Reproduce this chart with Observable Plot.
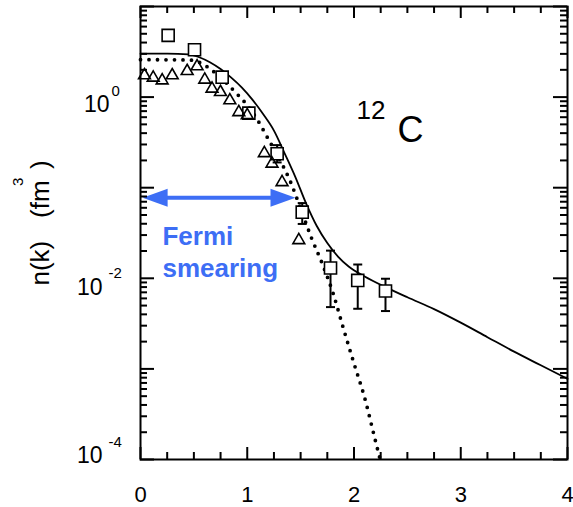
<!DOCTYPE html>
<html><head><meta charset="utf-8">
<script src="https://cdn.jsdelivr.net/npm/d3@7"></script>
<script src="https://cdn.jsdelivr.net/npm/@observablehq/plot@0.6"></script>
<style>html,body{margin:0;padding:0;background:#fff;}</style>
</head><body><div id="chart"></div>
<script>
// ---- data ----
// squares (data set with error bars)
const squareK   = [0.259, 0.506, 0.765, 1.015, 1.28, 1.515, 1.78, 2.035, 2.295];
const squareN   = [4.80, 3.33, 1.66, 0.665, 0.237, 0.0537, 0.0130, 0.00948, 0.00724];
const squareLo  = [null, null, null, null, 0.19, 0.0398, 0.00481, 0.00461, 0.00435];
const squareHi  = [null, null, null, null, 0.295, 0.0676, 0.0202, 0.0142, 0.00989];
// triangles
const triK = [0.037, 0.119, 0.203, 0.297, 0.437, 0.53, 0.602, 0.67, 0.749, 0.837, 0.921, 1.0, 1.16, 1.232, 1.326, 1.483];
const triN = [1.738, 1.637, 1.528, 1.738, 1.936, 2.183, 1.556, 1.239, 1.135, 0.920, 0.682, 0.631, 0.24, 0.184, 0.115, 0.0263];
// solid curve
const solidK = [0, 0.25, 0.45, 0.55, 0.65, 0.75, 0.85, 0.95, 1.05, 1.15, 1.25, 1.35, 1.45, 1.55, 1.65, 1.75, 1.85, 1.95, 2.1, 2.3, 2.5, 2.75, 3.0, 3.25, 3.5, 3.75, 4.0];
const solidN = [3.013, 3.013, 2.965, 2.754, 2.427, 2.042, 1.641, 1.274, 0.933, 0.646, 0.427, 0.240, 0.132, 0.0676, 0.0380, 0.0245, 0.01738, 0.01349, 0.01047, 0.00794, 0.00617, 0.00457, 0.00324, 0.00224, 0.00155, 0.001096, 0.000776];
// dotted curve
const dotK = [0, 0.45, 0.55, 0.67, 0.78, 0.9, 1.0, 1.1, 1.2, 1.3, 1.4, 1.5, 1.6, 1.7, 1.8, 1.9, 2.0, 2.1, 2.2, 2.245];
const dotN = [2.588, 2.570, 2.427, 1.972, 1.528, 1.096, 0.813, 0.550, 0.339, 0.209, 0.120, 0.0589, 0.0282, 0.01479, 0.00708, 0.00282, 0.001148, 0.000479, 0.000162, 0.0001];
// ticks and labels
const xTicks = [0, 1, 2, 3, 4];
const yLabelTicks = [1, 1e-2, 1e-4];
const yLabelExps = ["0", "-2", "-4"];
const yDecades = [1e-4, 1e-3, 1e-2, 1e-1, 1, 10];
// annotations
const fermiText = ["Fermi", "smearing"];
const fermiK = [0.206, 0.206];
const fermiN = [0.0285, 0.0128];
const arrowK = [0.02, 1.452];
const arrowN = 0.0776;
const massText = "12", elementText = "C";
const massK = 2.023, massN = 0.713;
const elementK = 2.4075, elementN = 0.4236;

// ---- derived tables ----
const squares = squareK.map((k, i) => ({k, n: squareN[i], lo: squareLo[i], hi: squareHi[i]}));
const errs = squares.filter(d => d.lo != null);
const tris = triK.map((k, i) => ({k, n: triN[i]}));
const solid = solidK.map((k, i) => ({k, n: solidN[i]}));
const dotted = dotK.map((k, i) => ({k, n: dotN[i]}));
const xMinor = d3.range(0, 4.0001, 0.25).filter(v => Math.abs(v - Math.round(v)) > 1e-9);
const yMinor = yDecades.slice(0, -1).flatMap(d => d3.range(2, 10).map(m => m * d));
const xDom = [0, 4], yDom = [1e-4, 10];

// ---- layout ----
const W = 573, H = 507, mL = 140, mR = 6, mT = 6, mB = 48;
const fw = W - mL - mR, fh = H - mT - mB;
const blue = "#3d6ef5";
const capSym = {draw(c, s) { const l = Math.sqrt(s / Math.PI); c.moveTo(-l, 0); c.lineTo(l, 0); }};
const headSym = dir => ({draw(c) { c.moveTo(0, 0); c.lineTo(-dir * 25, -9); c.lineTo(-dir * 25, 9); c.closePath(); }});

const tk = {stroke: "black", strokeWidth: 2};
const marks = [
  Plot.axisX(xTicks, {tickSize: 0, tickPadding: 27, fontSize: 22, label: null}),
  // curves
  Plot.line(solid, {x: "k", y: "n", curve: "monotone-x", stroke: "black", strokeWidth: 1.8}),
  Plot.line(dotted, {x: "k", y: "n", curve: "monotone-x", stroke: "black", strokeWidth: 3.8, strokeDasharray: "0 8.5", strokeLinecap: "round"}),
  // error bars
  Plot.ruleX(errs, {x: "k", y1: "lo", y2: "hi", stroke: "black", strokeWidth: 2}),
  Plot.dot(errs, {x: "k", y: "lo", symbol: capSym, r: 4.5, stroke: "black", strokeWidth: 2}),
  Plot.dot(errs, {x: "k", y: "hi", symbol: capSym, r: 4.5, stroke: "black", strokeWidth: 2}),
  // markers
  Plot.dot(squares, {x: "k", y: "n", symbol: "square", r: 6.8, stroke: "black", fill: "white", strokeWidth: 1.6}),
  Plot.dot(tris, {x: "k", y: "n", symbol: "triangle", r: 4.4, stroke: "black", fill: "none", strokeWidth: 1.6}),
  // Fermi smearing arrow
  Plot.ruleY([arrowN], {x1: arrowK[0] + 0.1, x2: arrowK[1] - 0.1, stroke: blue, strokeWidth: 4}),
  Plot.dot([arrowK[0]], {x: d => d, y: () => arrowN, symbol: headSym(-1), r: 1, fill: blue, stroke: "none"}),
  Plot.dot([arrowK[1]], {x: d => d, y: () => arrowN, symbol: headSym(1), r: 1, fill: blue, stroke: "none"}),
  Plot.text(fermiText, {x: (d, i) => fermiK[i], y: (d, i) => fermiN[i], text: d => d, textAnchor: "start", fill: blue, fontWeight: "bold", fontSize: 26}),
  // 12C label
  Plot.text([massText], {x: () => massK, y: () => massN, text: d => d, textAnchor: "start", fontSize: 26}),
  Plot.text([elementText], {x: () => elementK, y: () => elementN, text: d => d, textAnchor: "start", fontSize: 36}),
  // y axis title n(k) (fm^3)
  Plot.text(["n(k)"], {frameAnchor: "left", text: d => d, rotate: -90, dx: -100, dy: 52.5, fontSize: 26}),
  Plot.text(["(fm"], {frameAnchor: "left", text: d => d, rotate: -90, dx: -100, dy: -15, fontSize: 26}),
  Plot.text(["3"], {frameAnchor: "left", text: d => d, rotate: -90, dx: -122.5, dy: -47, fontSize: 15}),
  Plot.text([")"], {frameAnchor: "left", text: d => d, rotate: -90, dx: -100, dy: -64, fontSize: 26})
];
// y tick labels: "10" with a superscript exponent
const labelDy = [8, 9, -3.5];
yLabelTicks.forEach((v, i) => {
  const e = yLabelExps[i], long = e.length > 1;
  const dxTen = long ? -38 : -31;
  marks.push(Plot.text([v], {x: () => xDom[0], y: d => d, text: () => "10", textAnchor: "end", dx: dxTen, dy: labelDy[i], fontSize: 23}));
  marks.push(Plot.text([v], {x: () => xDom[0], y: d => d, text: () => e, textAnchor: "start", dx: dxTen + (long ? 6 : 2), dy: labelDy[i] - 14, fontSize: 15}));
});
// frame, then inward ticks on all four sides
marks.push(
  Plot.frame({stroke: "black", strokeWidth: 2}),
  Plot.tickY(yDecades, {y: d => d, insetRight: fw - 14, ...tk}),
  Plot.tickY(yMinor, {y: d => d, insetRight: fw - 7, ...tk}),
  Plot.tickY(yDecades, {y: d => d, insetLeft: fw - 14, ...tk}),
  Plot.tickY(yMinor, {y: d => d, insetLeft: fw - 7, ...tk}),
  Plot.tickX(xTicks, {x: d => d, insetTop: fh - 12, ...tk}),
  Plot.tickX(xMinor, {x: d => d, insetTop: fh - 7, ...tk}),
  Plot.tickX(xTicks, {x: d => d, insetBottom: fh - 12, ...tk}),
  Plot.tickX(xMinor, {x: d => d, insetBottom: fh - 7, ...tk})
);

const chart = Plot.plot({
  width: W, height: H,
  marginLeft: mL, marginRight: mR, marginTop: mT, marginBottom: mB,
  x: {domain: xDom},
  y: {type: "log", domain: yDom, axis: null},
  style: {fontFamily: "'Liberation Sans', Arial, Helvetica, sans-serif", fontSize: "22px", color: "black", background: "white"},
  marks
});
document.getElementById("chart").appendChild(chart);
</script>
</body></html>
